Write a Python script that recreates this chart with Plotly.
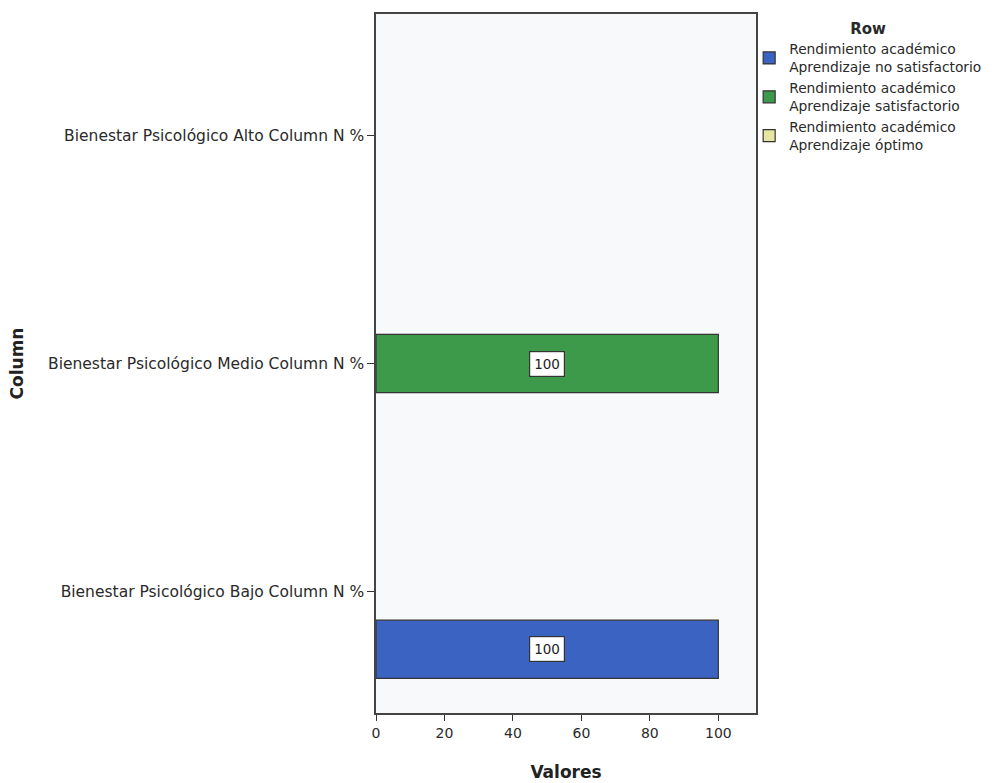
import plotly.graph_objects as go

categories = ["Bienestar Psicológico Bajo Column N %",
              "Bienestar Psicológico Medio Column N %",
              "Bienestar Psicológico Alto Column N %"]
series_names = ["Rendimiento académico<br>Aprendizaje no satisfactorio",
                "Rendimiento académico<br>Aprendizaje satisfactorio",
                "Rendimiento académico<br>Aprendizaje óptimo"]
no_satisfactorio = [100, None, None]
satisfactorio = [None, 100, None]
optimo = [None, None, None]
x_ticks = [0, 20, 40, 60, 80, 100]

series_values = [no_satisfactorio, satisfactorio, optimo]
colors = ["#3b63c2", "#3d9a4b", "#e4e6a2"]

BARGAP = 0.235
n_series = len(series_values)
bar_w = (1 - BARGAP) / n_series
FONT = "DejaVu Sans"

fig = go.Figure()
for name, vals, col in zip(series_names, series_values, colors):
    fig.add_trace(go.Bar(
        y=categories, x=vals, name=name, orientation="h",
        marker=dict(color=col, line=dict(color="#333333", width=1.2)),
    ))

annotations = []
for si, vals in enumerate(series_values):
    for ci, v in enumerate(vals):
        if v is None:
            continue
        annotations.append(dict(
            x=v / 2, y=ci + (si - (n_series - 1) / 2) * bar_w,
            xref="x", yref="y", text=f"{v:g}", showarrow=False,
            font=dict(family=FONT, size=13.5, color="#222222"),
            bgcolor="white", bordercolor="#333333", borderwidth=1.2, borderpad=4,
        ))

fig.update_layout(
    width=1002, height=783,
    margin=dict(l=376, r=246, t=14, b=70),
    paper_bgcolor="white", plot_bgcolor="#f8f9fa",
    barmode="group", bargap=BARGAP, bargroupgap=0,
    font=dict(family=FONT, size=13, color="#2a2a2a"),
    annotations=annotations,
    legend=dict(
        x=0.982, y=1.0, xanchor="left", yanchor="top",
        traceorder="normal",
        title=dict(text="<b>Row</b>", side="top center",
                   font=dict(family=FONT, size=15)),
        font=dict(family=FONT, size=13.8, color="#2a2a2a"),
        bgcolor="rgba(0,0,0,0)", itemwidth=30, tracegroupgap=0,
    ),
    xaxis=dict(
        range=[0, 111], tickvals=x_ticks, showgrid=False, zeroline=False,
        ticks="outside", ticklen=6, tickcolor="#333333",
        showline=True, linecolor="#444444", linewidth=1.5, mirror=True,
        tickfont=dict(size=14), automargin=False,
        title=dict(text="<b>Valores</b>", standoff=27,
                   font=dict(family=FONT, size=17, color="#222222")),
    ),
    yaxis=dict(
        range=[-0.535, 2.535], showgrid=False, zeroline=False,
        ticks="outside", ticklen=7, tickcolor="#333333",
        showline=True, linecolor="#444444", linewidth=1.5, mirror=True,
        tickfont=dict(size=15.5), automargin=False,
        title=dict(text="<b>Column</b>", standoff=20,
                   font=dict(family=FONT, size=17, color="#222222")),
    ),
)

fig.write_html("out.html")
